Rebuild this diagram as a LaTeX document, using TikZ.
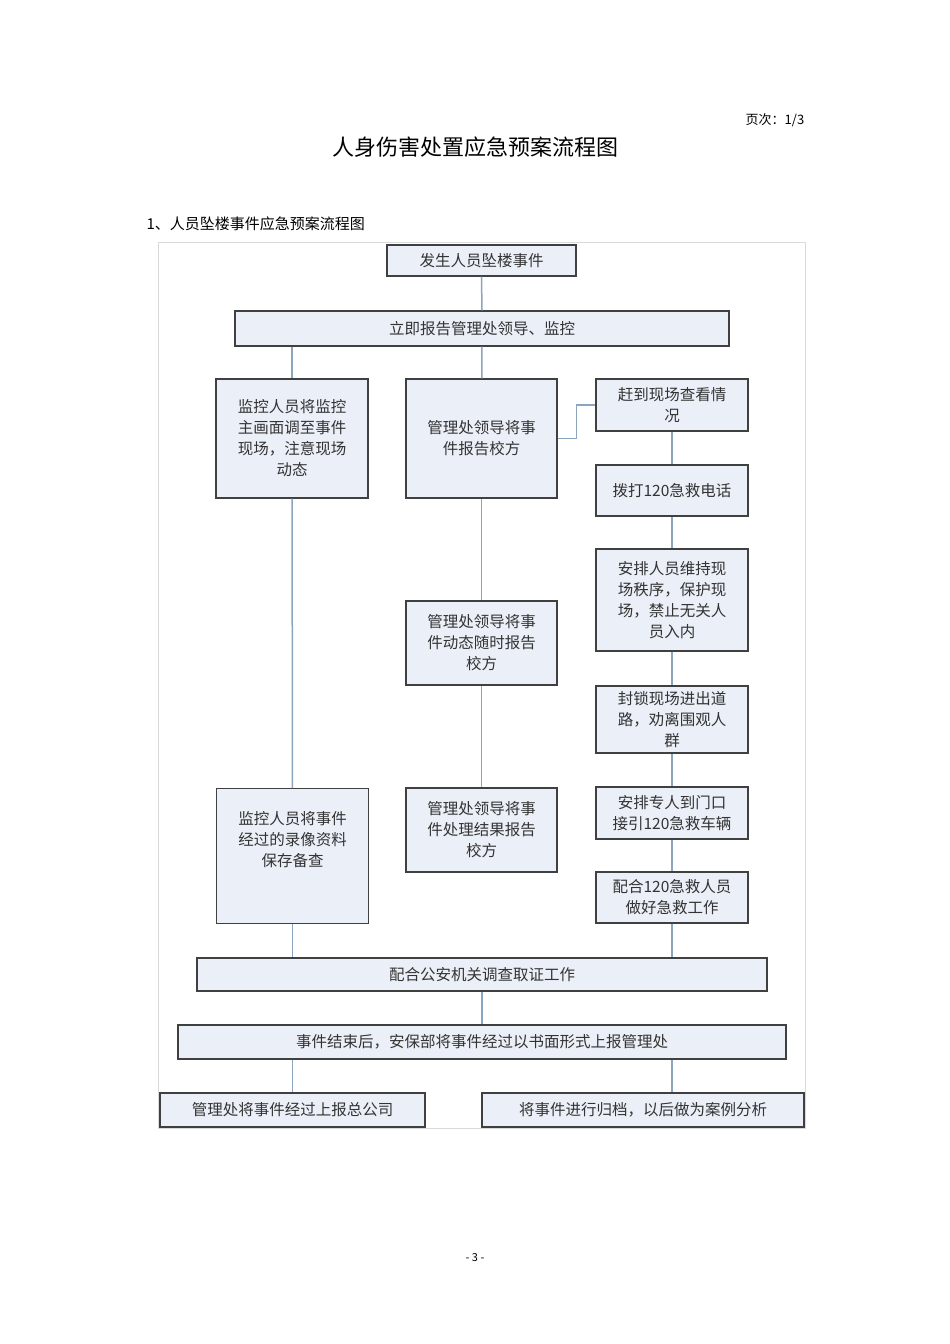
\documentclass[tikz,border=0pt]{standalone}
\usepackage{fontspec}
\setmainfont{Noto Sans CJK SC}
\begin{document}
\begin{tikzpicture}[x=1pt,y=-1pt,
  bx/.style={draw=black!75,line width=1.1pt,fill={rgb,255:red,235;green,239;blue,247},inner sep=0pt,align=center,font=\fontsize{15.5}{21}\selectfont,text=black!80},
  ln/.style={draw={rgb,255:red,140;green,165;blue,190},line width=1.5pt}]
\useasboundingbox (0,0) rectangle (950,1344);
\newcommand{\bxat}[6]{\node[bx,minimum width=#4-#2,minimum height=#5-#3] (#1) at ({(#2+#4)/2},{(#3+#5)/2}) {#6};}
\node (pg) at (775,120) {\fontsize{13}{13}\selectfont 页次：1/3};
\node (ti) at (475,147) {\fontsize{22}{22}\selectfont 人身伤害处置应急预案流程图};
\node[anchor=west] (sub) at (143,224) {\fontsize{15}{15}\selectfont 1、人员坠楼事件应急预案流程图};
\draw[black!15,line width=0.8pt] (158,242) rectangle (805,1128);
\bxat{b1}{387}{245}{576}{276}{发生人员坠楼事件}
\bxat{b2}{235}{311}{729}{346}{立即报告管理处领导、监控}
\bxat{b3}{216}{379}{368}{498}{监控人员将监控\\主画面调至事件\\现场，注意现场\\动态}
\bxat{b4}{406}{379}{557}{498}{管理处领导将事\\件报告校方}
\bxat{r1}{596}{379}{748}{431}{赶到现场查看情\\况}
\bxat{r2}{596}{465}{748}{516}{拨打120急救电话}
\bxat{r3}{596}{549}{748}{651}{安排人员维持现\\场秩序，保护现\\场，禁止无关人\\员入内}
\bxat{m2}{406}{601}{557}{685}{管理处领导将事\\件动态随时报告\\校方}
\bxat{r4}{596}{686}{748}{753}{封锁现场进出道\\路，劝离围观人\\群}
\node[bx,minimum width=152,minimum height=135,anchor=north west] (l2) at (216,788) {\\监控人员将事件\\经过的录像资料\\保存备查\\ \\};
\bxat{m3}{406}{788}{557}{872}{管理处领导将事\\件处理结果报告\\校方}
\bxat{r5}{596}{787}{748}{839}{安排专人到门口\\接引120急救车辆}
\bxat{r6}{596}{872}{748}{923}{配合120急救人员\\做好急救工作}
\bxat{b5}{197}{958}{767}{991}{配合公安机关调查取证工作}
\bxat{b6}{178}{1025}{786}{1059}{事件结束后，安保部将事件经过以书面形式上报管理处}
\bxat{b7}{160}{1093}{425}{1127}{管理处将事件经过上报总公司}
\bxat{b8}{482}{1093}{804}{1127}{将事件进行归档，以后做为案例分析}
\node (pn) at (475,1258) {\fontsize{11}{11}\selectfont - 3 -};
\draw[ln] (b1) -- (b2);
\draw[ln] (b2.south -| b3) -- (b3);
\draw[ln] (b2) -- (b4);
\draw[ln] (b4.east) -- ++(19,0) |- (r1.west);
\draw[ln] (r1)--(r2); \draw[ln] (r2)--(r3); \draw[ln] (r3)--(r4); \draw[ln] (r4)--(r5); \draw[ln] (r5)--(r6);
\draw[ln] (b3)--(l2); \draw[ln] (b4)--(m2); \draw[ln] (m2)--(m3);
\draw[ln] (l2) -- (l2 |- b5.north);
\draw[ln] (r6) -- (r6 |- b5.north);
\draw[ln] (b5)--(b6);
\draw[ln] (b6.south -| b7) -- (b7);
\draw[ln] (b6.south -| r6) -- (r6 |- b8.north);
\end{tikzpicture}
\end{document}
